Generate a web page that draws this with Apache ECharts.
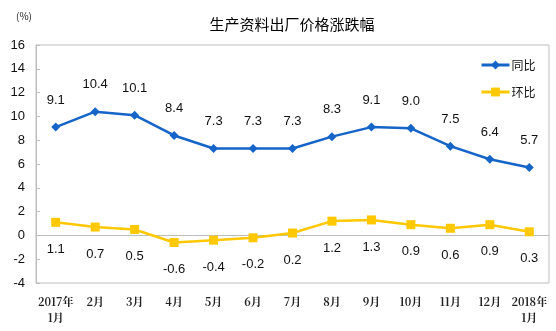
<!DOCTYPE html>
<html>
<head>
<meta charset="utf-8">
<script src="https://cdn.jsdelivr.net/npm/echarts@6/dist/echarts.min.js"></script>
<style>
  html, body { margin: 0; padding: 0; background: #fff; }
  #chart { width: 556px; height: 331px; }
</style>
</head>
<body>
<div id="chart"></div>
<script>
// Monthly producer-goods ex-factory price change, Jan 2017 – Jan 2018
const months = ['2017年\n1月', '2月', '3月', '4月', '5月', '6月', '7月', '8月', '9月', '10月', '11月', '12月', '2018年\n1月'];
const yoy = [9.1, 10.4, 10.1, 8.4, 7.3, 7.3, 7.3, 8.3, 9.1, 9.0, 7.5, 6.4, 5.7];
const mom = [1.1, 0.7, 0.5, -0.6, -0.4, -0.2, 0.2, 1.2, 1.3, 0.9, 0.6, 0.9, 0.3];
const yTicks = [-4, 16, 2];

const chart = echarts.init(document.getElementById('chart'), null, { renderer: 'canvas' });

const labelFont = {
  fontFamily: 'Liberation Sans, Arial, sans-serif',
  fontSize: 13,
  color: '#111',
  formatter: p => Number(p.value).toFixed(1)
};

chart.setOption({
  animation: false,
  backgroundColor: '#fff',
  title: {
    text: '生产资料出厂价格涨跌幅',
    left: 287,
    textAlign: 'center',
    top: 12,
    textStyle: { fontFamily: 'Noto Sans CJK SC', fontSize: 15, fontWeight: 'normal', color: '#000' }
  },
  graphic: [{
    type: 'text',
    left: 16,
    top: 11,
    style: { text: '(%)', fontSize: 10, fontFamily: 'Noto Sans CJK SC', fill: '#222' }
  }],
  legend: {
    orient: 'vertical',
    left: 475,
    top: 54,
    itemWidth: 28,
    itemHeight: 11,
    itemGap: 15,
    lineStyle: { width: 3 },
    textStyle: { fontFamily: 'Noto Sans CJK SC', fontSize: 12, color: '#111', padding: [0, 0, 0, -3] },
    data: ['同比', '环比']
  },
  grid: {
    left: 36, right: 7, top: 45, bottom: 48,
    show: true, borderColor: '#bdbdbd', borderWidth: 1, backgroundColor: 'transparent'
  },
  xAxis: {
    type: 'category',
    data: months,
    boundaryGap: true,
    axisLine: { lineStyle: { color: '#bdbdbd' } },
    axisTick: { inside: true, length: 4, lineStyle: { color: '#bdbdbd' } },
    axisLabel: {
      margin: 11,
      interval: 0,
      fontFamily: 'Noto Serif CJK SC, Noto Sans CJK SC',
      fontSize: 11,
      fontWeight: 'bold',
      color: '#222',
      lineHeight: 16
    }
  },
  yAxis: {
    type: 'value',
    min: yTicks[0],
    max: yTicks[1],
    interval: yTicks[2],
    splitLine: { show: false },
    axisLine: { show: true, lineStyle: { color: '#bdbdbd' } },
    axisTick: { show: true, inside: true, length: 4, lineStyle: { color: '#bdbdbd' } },
    axisLabel: { margin: 11, fontFamily: 'Liberation Sans, Arial, sans-serif', fontSize: 13, color: '#111' }
  },
  series: [
    {
      name: '同比',
      type: 'line',
      data: yoy,
      symbol: 'diamond',
      symbolSize: 9,
      color: '#1565c8',
      lineStyle: { width: 2.5, color: '#1565c8' },
      itemStyle: { color: '#1565c8' },
      label: Object.assign({ show: true, position: 'top', distance: 16 }, labelFont)
    },
    {
      name: '环比',
      type: 'line',
      data: mom,
      symbol: 'rect',
      symbolSize: 9,
      color: '#ffc800',
      lineStyle: { width: 2.5, color: '#ffc800' },
      itemStyle: { color: '#ffc800' },
      label: Object.assign({ show: true, position: 'bottom', distance: 16 }, labelFont)
    }
  ]
});
</script>
</body>
</html>
